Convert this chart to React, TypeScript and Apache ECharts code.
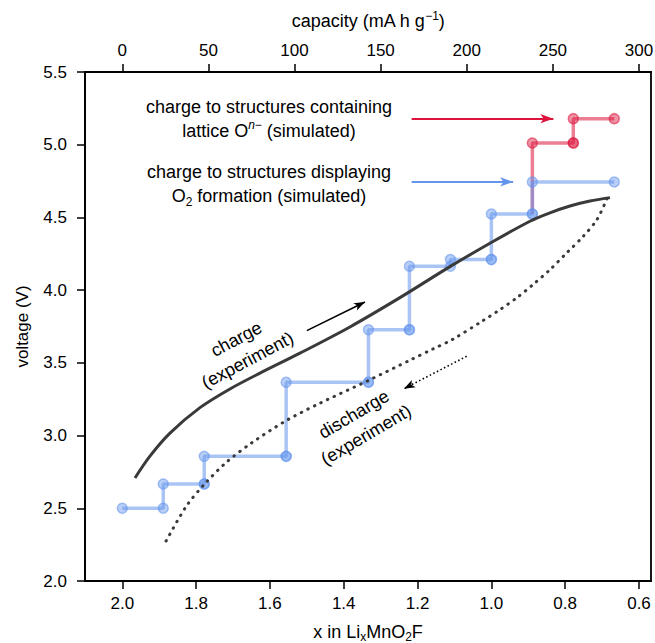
import React, { useEffect, useRef } from "react";
import * as echarts from "echarts";

const FONT = "'Liberation Sans', Arial, Helvetica, sans-serif";

// ---- axis extents / ticks ----
const X_LEFT = 2.101; // x in LixMnO2F at left edge (axis reversed)
const X_RIGHT = 0.5675;
const V_MIN = 2.0;
const V_MAX = 5.5;
const V_STEP = 0.5;
const CAP_PER_LI = 300 / 1.4; // mA h g^-1 per Li removed
const xTicks = [2.0, 1.8, 1.6, 1.4, 1.2, 1.0, 0.8, 0.6];
const capacityTicks = [0, 50, 100, 150, 200, 250, 300];

// ---- simulated: structures displaying O2 formation (blue) ----
const blueX = [2.0, 1.889, 1.889, 1.778, 1.778, 1.556, 1.556, 1.333, 1.333, 1.222, 1.222, 1.111, 1.111, 1.0, 1.0, 0.889, 0.889, 0.667];
const blueV = [2.5, 2.5, 2.667, 2.667, 2.857, 2.857, 3.367, 3.367, 3.728, 3.728, 4.164, 4.164, 4.21, 4.21, 4.524, 4.524, 4.744, 4.744];
// points where several structures overlap (darker markers)
const blueDupX = [1.778, 1.556, 1.333, 1.222, 1.0, 0.889];
const blueDupV = [2.667, 2.857, 3.367, 3.728, 4.21, 4.524];

// ---- simulated: structures containing lattice O^n- (red) ----
const redX = [0.889, 0.889, 0.778, 0.778, 0.667];
const redV = [4.524, 5.012, 5.012, 5.179, 5.179];
const redDupX = [0.778];
const redDupV = [5.012];

// ---- experiment ----
const chargeX = [1.9656, 1.925, 1.8708, 1.7895, 1.7083, 1.627, 1.5186, 1.3832, 1.2477, 1.1122, 1.0038, 0.8954, 0.8412, 0.787, 0.7329, 0.6787];
const chargeV = [2.7084, 2.8583, 3.0165, 3.1919, 3.3205, 3.4292, 3.5667, 3.7469, 3.9484, 4.1616, 4.3226, 4.4739, 4.5316, 4.5784, 4.6128, 4.6362];
const dischargeX = [0.6868, 0.7139, 0.7518, 0.7952, 0.8412, 0.8873, 0.9306, 0.9767, 1.0227, 1.104, 1.1582, 1.2178, 1.3343, 1.4671, 1.5538, 1.6486, 1.719, 1.7786, 1.8274, 1.8897];
const dischargeV = [4.6293, 4.4849, 4.368, 4.2579, 4.141, 4.0378, 3.9484, 3.8659, 3.7902, 3.663, 3.5956, 3.522, 3.3776, 3.2194, 3.1059, 2.9512, 2.8136, 2.6623, 2.511, 2.2359];

// ---- annotation arrows (data coordinates: start, end) ----
const redArrowX = [1.216, 0.832];
const redArrowV = [5.179, 5.179];
const blueArrowX = [1.216, 0.941];
const blueArrowV = [4.744, 4.744];
const chargeArrowX = [1.5, 1.3425];
const chargeArrowV = [3.7215, 3.919];
const dischargeArrowX = [1.067, 1.2368];
const dischargeArrowV = [3.545, 3.3226];

// ---- annotation text anchors (data coordinates) ----
const latticeTextAt = [1.6025, 5.175];
const o2TextAt = [1.6025, 4.727];
const chargeTextAt = [1.6757, 3.591];
const dischargeTextAt = [1.356, 3.075];

const BLUE = "100,149,237";
const RED = "220,20,60";

const zip = (xs: number[], vs: number[]) => xs.map((x, i) => [x, vs[i]]);

const RICH = {
  a: { fontSize: 18, fontFamily: FONT, color: "#000", lineHeight: 24 },
  ai: { fontSize: 12, fontFamily: FONT, fontStyle: "italic", color: "#000", verticalAlign: "top", lineHeight: 24 },
  sup: { fontSize: 12, fontFamily: FONT, color: "#000", verticalAlign: "top", lineHeight: 24 },
  sub: { fontSize: 12, fontFamily: FONT, color: "#000", verticalAlign: "bottom", lineHeight: 24 },
};

function arrow(xs: number[], vs: number[], color: string, width: number, type: any, head: number[]) {
  const ls = { color, width, type, cap: "butt" };
  return [
    { coord: [xs[0], vs[0]], symbol: "none", lineStyle: ls },
    { coord: [xs[1], vs[1]], symbol: "arrow", symbolSize: head, lineStyle: ls },
  ];
}

function stepSeries(name: string, xs: number[], vs: number[], rgb: string, z: number, hideFirst: boolean) {
  return {
    name,
    type: "line",
    z,
    data: zip(xs, vs).map((p, i) => (hideFirst && i === 0 ? { value: p, symbol: "none" } : { value: p })),
    symbol: "circle",
    symbolSize: 10,
    lineStyle: { color: `rgba(${rgb},0.55)`, width: 3.5 },
    itemStyle: { color: `rgba(${rgb},0.45)`, borderColor: `rgba(${rgb},0.55)`, borderWidth: 1.5 },
    emphasis: { disabled: true },
    silent: true,
  };
}

function dupSeries(xs: number[], vs: number[], rgb: string, z: number) {
  return {
    type: "scatter",
    z,
    data: zip(xs, vs),
    symbol: "circle",
    symbolSize: 10,
    itemStyle: { color: `rgba(${rgb},0.45)`, borderColor: `rgba(${rgb},0.55)`, borderWidth: 1.5 },
    emphasis: { disabled: true },
    silent: true,
  };
}

const axisLine = { show: true, onZero: false, lineStyle: { color: "#000", width: 1.8 } };
const tickStyle = { color: "#000", width: 1.5 };
const labelBase = { color: "#000", fontSize: 17, fontFamily: FONT };

const option: any = {
  animation: false,
  backgroundColor: "#fff",
  grid: {
    left: 85,
    right: 4,
    top: 72,
    bottom: 62,
    show: true,
    borderColor: "#000",
    borderWidth: 1.8,
    backgroundColor: "transparent",
    containLabel: false,
    outerBoundsMode: "none",
  },
  xAxis: [
    {
      type: "value",
      position: "bottom",
      min: X_RIGHT,
      max: X_LEFT,
      inverse: true,
      axisLine,
      axisTick: { show: true, inside: false, length: 8, lineStyle: tickStyle, customValues: xTicks },
      axisLabel: { ...labelBase, margin: 14, customValues: xTicks, formatter: (v: number) => v.toFixed(1) },
      splitLine: { show: false },
      name: "{a|x in Li}{sub|x}{a|MnO}{sub|2}{a|F}",
      nameLocation: "middle",
      nameGap: 40,
      nameTextStyle: {
        rich: {
          a: { fontSize: 18, fontFamily: FONT, color: "#000", lineHeight: 22 },
          sub: { fontSize: 12, fontFamily: FONT, color: "#000", verticalAlign: "bottom", lineHeight: 22 },
        },
      },
    },
    {
      type: "value",
      position: "top",
      min: (2 - X_LEFT) * CAP_PER_LI,
      max: (2 - X_RIGHT) * CAP_PER_LI,
      axisLine,
      axisTick: { show: true, inside: false, length: 8, lineStyle: tickStyle, customValues: capacityTicks },
      axisLabel: { ...labelBase, margin: 13, customValues: capacityTicks, formatter: (v: number) => String(Math.round(v)) },
      splitLine: { show: false },
      name: "{a|capacity (mA h g}{sup|−1}{a|)}",
      nameLocation: "middle",
      nameGap: 40,
      nameTextStyle: {
        rich: {
          a: { fontSize: 18, fontFamily: FONT, color: "#000", lineHeight: 22 },
          sup: { fontSize: 12, fontFamily: FONT, color: "#000", verticalAlign: "top", lineHeight: 22 },
        },
      },
    },
  ],
  yAxis: [
    {
      type: "value",
      position: "left",
      min: V_MIN,
      max: V_MAX,
      interval: V_STEP,
      axisLine,
      axisTick: { show: true, inside: false, length: 8, lineStyle: tickStyle },
      axisLabel: { ...labelBase, margin: 18, formatter: (v: number) => v.toFixed(1) },
      splitLine: { show: false },
      name: "voltage (V)",
      nameLocation: "middle",
      nameGap: 54,
      nameRotate: 90,
      nameTextStyle: { fontSize: 17, fontFamily: FONT, color: "#000" },
    },
  ],
  series: [
    stepSeries("lattice", redX, redV, RED, 2, true),
    stepSeries("o2", blueX, blueV, BLUE, 3, false),
    dupSeries(blueDupX, blueDupV, BLUE, 4),
    dupSeries(redDupX, redDupV, RED, 4),
    {
      name: "charge",
      type: "line",
      z: 5,
      data: zip(chargeX, chargeV),
      smooth: 0.3,
      symbol: "none",
      lineStyle: { color: "#3a3a3a", width: 3 },
      emphasis: { disabled: true },
      silent: true,
      markLine: {
        silent: true,
        animation: false,
        label: { show: false },
        emphasis: { disabled: true },
        data: [
          arrow(redArrowX, redArrowV, `rgb(${RED})`, 2, "solid", [7, 13]),
          arrow(blueArrowX, blueArrowV, `rgb(${BLUE})`, 2, "solid", [7, 13]),
          arrow(chargeArrowX, chargeArrowV, "#000", 1.6, "solid", [6, 11]),
          arrow(dischargeArrowX, dischargeArrowV, "#000", 1.6, [1.5, 2.5], [6, 11]),
        ],
      },
    },
    {
      name: "discharge",
      type: "line",
      z: 5,
      data: zip(dischargeX, dischargeV),
      smooth: 0.3,
      symbol: "none",
      lineStyle: { color: "#3a3a3a", width: 3, type: [0.5, 6.8], cap: "round" },
      emphasis: { disabled: true },
      silent: true,
    },
  ],
};

export default function App() {
  const ref = useRef<HTMLDivElement>(null);
  useEffect(() => {
    const el = ref.current!;
    const chart = echarts.init(el, undefined, { renderer: "svg" });
    chart.setOption(option);
    const toPx = (p: number[]) => chart.convertToPixel({ seriesIndex: 0 }, p) as number[];
    const text = (p: number[], str: string, rotDeg: number) => {
      const [x, y] = toPx(p);
      return {
        type: "text",
        x,
        y,
        rotation: (rotDeg * Math.PI) / 180,
        silent: true,
        z: 20,
        style: {
          text: str,
          rich: RICH,
          fill: "#000",
          fontSize: 18,
          fontFamily: FONT,
          align: "center",
          verticalAlign: "middle",
        },
      };
    };
    chart.setOption({
      graphic: [
        text(latticeTextAt, "{a|charge to structures containing}\n{a|lattice O}{ai|n}{sup|−}{a| (simulated)}", 0),
        text(o2TextAt, "{a|charge to structures displaying}\n{a|O}{sub|2}{a| formation (simulated)}", 0),
        text(chargeTextAt, "{a|charge}\n{a|(experiment)}", 28),
        text(dischargeTextAt, "{a|discharge}\n{a|(experiment)}", 30.5),
      ],
    });
    return () => chart.dispose();
  }, []);
  return (
    <div
      ref={ref}
      style={{ position: "fixed", left: 0, top: 0, width: 655, height: 643, background: "#fff" }}
    />
  );
}
